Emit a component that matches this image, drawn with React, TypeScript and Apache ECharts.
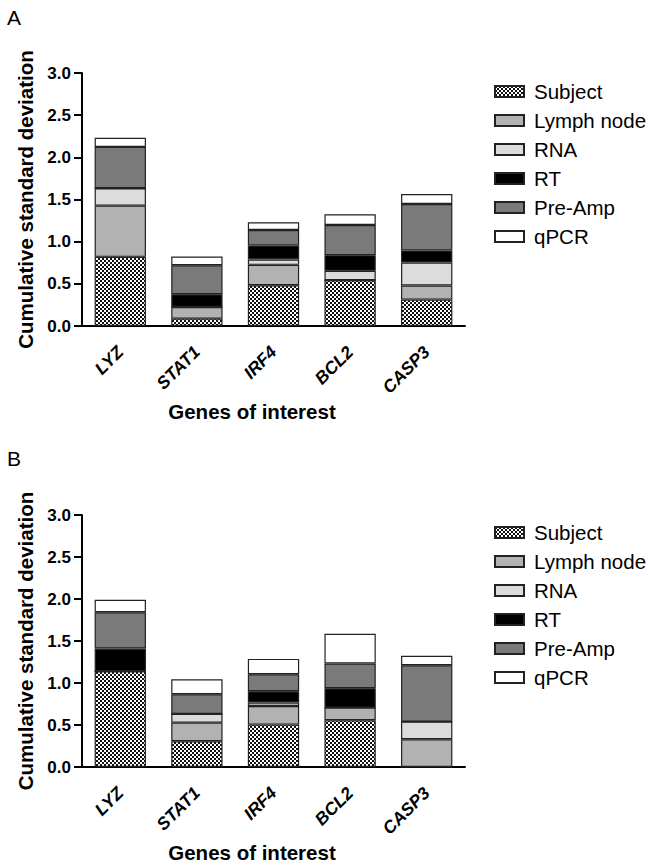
import React, { useEffect, useRef } from "react";
import * as echarts from "echarts";

const genes = ["LYZ", "STAT1", "IRF4", "BCL2", "CASP3"];
const sources = ["Subject", "Lymph node", "RNA", "RT", "Pre-Amp", "qPCR"];
const yTicks = [0, 0.5, 1, 1.5, 2, 2.5, 3];

// Panel A segment heights
const aSubject = [0.82, 0.087, 0.484, 0.543, 0.313];
const aLymph = [0.607, 0.139, 0.241, 0, 0.167];
const aRNA = [0.206, 0, 0.064, 0.111, 0.273];
const aRT = [0, 0.151, 0.166, 0.186, 0.143];
const aPreAmp = [0.491, 0.344, 0.183, 0.357, 0.551];
const aQPCR = [0.107, 0.103, 0.091, 0.127, 0.119];

// Panel B segment heights
const bSubject = [1.14, 0.306, 0.505, 0.556, 0];
const bLymph = [0, 0.222, 0.222, 0.151, 0.33];
const bRNA = [0, 0.104, 0.04, 0, 0.21];
const bRT = [0.27, 0, 0.135, 0.231, 0];
const bPreAmp = [0.433, 0.234, 0.202, 0.294, 0.672];
const bQPCR = [0.147, 0.179, 0.183, 0.353, 0.111];

function makeChecker(): string {
  const c = document.createElement("canvas");
  c.width = 4;
  c.height = 4;
  const ctx = c.getContext("2d")!;
  ctx.fillStyle = "#ffffff";
  ctx.fillRect(0, 0, 4, 4);
  ctx.fillStyle = "#111111";
  ctx.fillRect(0, 0, 2, 2);
  ctx.fillRect(2, 2, 2, 2);
  return c.toDataURL();
}

export default function App() {
  const ref = useRef<HTMLDivElement>(null);
  useEffect(() => {
    if (!ref.current) return;
    const chart = echarts.init(ref.current, undefined, { renderer: "svg" });
    const checker = makeChecker();
    const fills: any[] = [
      { image: checker, repeat: "repeat" },
      "#b2b2b2",
      "#dcdcdc",
      "#000000",
      "#7a7a7a",
      "#ffffff",
    ];
    const panels = [
      [aSubject, aLymph, aRNA, aRT, aPreAmp, aQPCR],
      [bSubject, bLymph, bRNA, bRT, bPreAmp, bQPCR],
    ];
    const font = "'Liberation Sans', Arial, sans-serif";
    const grids = [
      { left: 82, top: 73, width: 383, height: 253 },
      { left: 82, top: 515, width: 383, height: 252 },
    ];
    const series: any[] = [];
    panels.forEach((vals, p) => {
      vals.forEach((arr, i) => {
        series.push({
          type: "bar",
          name: sources[i],
          xAxisIndex: p,
          yAxisIndex: p,
          stack: "s" + p,
          data: arr,
          barCategoryGap: "33%",
          itemStyle: {
            color: fills[i],
            borderColor: "#222",
            borderWidth: 1.2,
          },
        });
      });
    });
    const xAxis = grids.map((_, p) => ({
      type: "category",
      gridIndex: p,
      data: genes,
      axisLine: { lineStyle: { color: "#000", width: 2 } },
      axisTick: { alignWithLabel: true, length: 8, lineStyle: { color: "#000", width: 2 } },
      axisLabel: {
        rotate: 45,
        margin: 23,
        color: "#000",
        fontSize: 17.5,
        fontWeight: "bold",
        fontStyle: "italic",
        fontFamily: font,
      },
      name: "Genes of interest",
      nameLocation: "middle",
      nameGap: 75,
      nameTextStyle: {
        color: "#000",
        fontSize: 20.5,
        fontWeight: "bold",
        fontFamily: font,
        padding: [0, 43, 0, 0],
      },
    }));
    const yAxis = grids.map((_, p) => ({
      type: "value",
      gridIndex: p,
      min: 0,
      max: 3,
      interval: 0.5,
      splitLine: { show: false },
      axisLine: { show: true, lineStyle: { color: "#000", width: 2 } },
      axisTick: { show: true, length: 8, lineStyle: { color: "#000", width: 2 } },
      axisLabel: {
        margin: 11,
        color: "#000",
        fontSize: 17,
        fontWeight: "bold",
        fontFamily: font,
        formatter: (v: number) => (yTicks.includes(v) ? v.toFixed(1) : ""),
      },
      name: "Cumulative standard deviation",
      nameLocation: "middle",
      nameGap: 44,
      nameTextStyle: {
        color: "#000",
        fontSize: 20.5,
        fontWeight: "bold",
        fontFamily: font,
      },
    }));
    const legends = [76, 517].map((top) => ({
      orient: "vertical",
      left: 489,
      top,
      icon: "rect",
      itemWidth: 29,
      itemHeight: 11,
      itemGap: 8,
      data: sources,
      selectedMode: false,
      textStyle: {
        color: "#000",
        fontSize: 20.5,
        lineHeight: 21,
        fontFamily: font,
        padding: [0, 0, 0, 5],
      },
    }));
    chart.setOption({
      animation: false,
      backgroundColor: "#fff",
      grid: grids,
      xAxis,
      yAxis,
      legend: legends,
      series,
      graphic: [
        { type: "text", left: 7, top: 7, style: { text: "A", fontSize: 21, fill: "#000", fontFamily: font } },
        { type: "text", left: 7, top: 448, style: { text: "B", fontSize: 21, fill: "#000", fontFamily: font } },
      ],
    });
    return () => chart.dispose();
  }, []);
  return (
    <div
      ref={ref}
      style={{ position: "absolute", left: 0, top: 0, width: 648, height: 866 }}
    />
  );
}
